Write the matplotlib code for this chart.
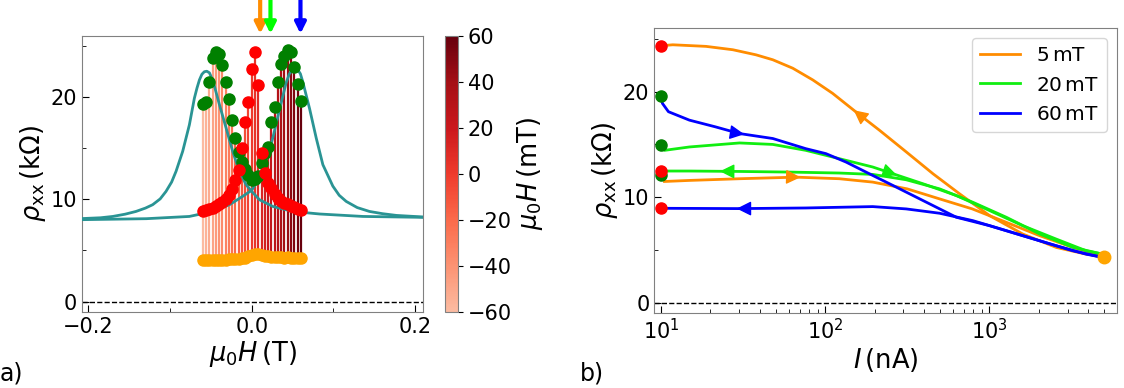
import numpy as np
import matplotlib
matplotlib.use('Agg')
import matplotlib.pyplot as plt
from matplotlib.colors import ListedColormap, Normalize
from matplotlib.cm import ScalarMappable

# ---- panel a: field sweep ----
# applied fields of the current sweeps (mT)
fields_mT = np.array([-60, -56, -52, -48, -44, -40, -36, -32, -28, -24, -20, -16, -12, -8, -4, 0,
                      4, 8, 12, 16, 20, 24, 28, 32, 36, 40, 44, 48, 52, 56, 60])
rho_start = np.array([19.3, 19.5, 21.5, 23.8, 24.4, 24.2, 23.2, 21.5, 19.8, 17.8, 16.0, 14.6, 13.7,
                      13.0, 12.4, 11.9, 12.0, 12.3, 13.6, 14.5, 15.1, 17.6, 19.0, 21.5, 23.3, 24.0,
                      24.6, 24.4, 23.0, 21.3, 19.6])
rho_end = np.array([8.9, 9.0, 9.1, 9.2, 9.35, 9.5, 9.7, 10.0, 10.4, 11.0, 11.9, 12.9, 15.0, 17.6,
                    19.5, 22.8, 24.4, 21.2, 14.5, 12.6, 11.6, 11.1, 10.5, 10.1, 9.8, 9.6, 9.5, 9.4,
                    9.3, 9.1, 9.0])
rho_high = np.array([4.1, 4.1, 4.1, 4.1, 4.1, 4.1, 4.1, 4.1, 4.12, 4.15, 4.2, 4.2, 4.25, 4.3, 4.45,
                     4.6, 4.7, 4.7, 4.6, 4.5, 4.45, 4.4, 4.4, 4.35, 4.35, 4.3, 4.35, 4.3, 4.3, 4.3, 4.3])

# low current field sweeps (T, kOhm)
h_sweep1 = [-0.211, -0.185, -0.170, -0.155, -0.1416, -0.130, -0.1212, -0.112, -0.1049, -0.098,
            -0.0926, -0.0845, -0.0763, -0.0702, -0.067, -0.064, -0.061, -0.058, -0.055, -0.0518,
            -0.049, -0.0457, -0.0396, -0.0314, -0.0233, -0.0151, -0.0069, 0.0, 0.0094, 0.0257,
            0.050, 0.083, 0.136, 0.2115]
rho_sweep1 = [8.11, 8.2, 8.33, 8.55, 8.82, 9.15, 9.48, 10.05, 10.78, 11.7, 12.75, 14.7, 17.3, 19.9,
              20.9, 21.7, 22.25, 22.5, 22.55, 22.4, 21.9, 21.1, 19.3, 17.0, 14.7, 12.75, 11.44, 10.78,
              9.97, 9.31, 8.82, 8.57, 8.33, 8.24]
h_sweep2 = [-0.211, -0.129, -0.0763, -0.0478, -0.0273, -0.011, 0.0, 0.0094, 0.0176, 0.0257, 0.034,
            0.042, 0.046, 0.050, 0.0535, 0.0563, 0.0595, 0.0625, 0.0707, 0.0789, 0.087, 0.0992,
            0.107, 0.1156, 0.129, 0.144, 0.160, 0.177, 0.2115]
rho_sweep2 = [8.01, 8.11, 8.33, 8.82, 9.48, 10.3, 10.9, 12.1, 13.7, 16.0, 18.8, 21.4, 22.3, 22.7,
              22.8, 22.7, 22.3, 21.5, 18.9, 16.0, 13.4, 11.3, 10.4, 9.8, 9.2, 8.82, 8.6, 8.43, 8.27]

arrow_fields = [0.0103, 0.0229, 0.0596]
arrow_colors = ['darkorange', 'lime', 'blue']

# ---- panel b: current sweeps (nA, kOhm) ----
I5_up = [10.5, 14.9, 30.1, 66.5, 122, 195, 316, 498, 788, 1270, 2030, 3240, 4930]
r5_up = [11.49, 11.59, 11.75, 11.9, 11.75, 11.43, 10.79, 9.84, 8.89, 7.62, 6.35, 5.24, 4.44]
I5_dn = [4930, 3900, 2560, 1600, 1005, 659, 454, 312, 214, 158, 111, 84.1, 63.5, 48.0, 37.9, 27.4,
         18.8, 11.8, 10]
r5_dn = [4.44, 4.6, 5.24, 6.51, 8.25, 10.32, 12.22, 14.29, 16.35, 17.94, 19.84, 21.11, 22.22, 23.02,
         23.49, 23.97, 24.29, 24.44, 24.35]

I20_up = [10, 10.5, 14.9, 30.1, 48.0, 76.2, 122, 195, 259, 395, 630, 1005, 1600, 2560, 3900, 4930]
r20_up = [14.98, 14.44, 14.76, 15.14, 15.0, 14.44, 13.65, 12.86, 12.22, 11.27, 10.16, 8.73, 7.30,
          6.03, 4.92, 4.6]
I20_dn = [4930, 3240, 2030, 1270, 794, 498, 312, 195, 122, 60.5, 30.1, 14.9, 10]
r20_dn = [4.6, 5.24, 6.51, 8.10, 9.52, 10.79, 11.65, 12.16, 12.29, 12.38, 12.44, 12.48, 12.48]

I60_up = [10, 10.2, 11.1, 14.9, 21.4, 30.1, 48.0, 76.2, 101, 134, 195, 259, 395, 630, 1005, 1600,
          2560, 3900, 4930]
r60_up = [19.59, 18.89, 18.1, 17.3, 16.67, 16.03, 15.56, 14.6, 14.13, 13.33, 12.06, 11.11, 9.68, 8.10,
          7.30, 6.35, 5.40, 4.6, 4.29]
I60_dn = [4930, 3240, 2030, 1270, 794, 498, 312, 195, 76.2, 30.1, 10]
r60_dn = [4.29, 4.92, 5.87, 6.83, 7.78, 8.48, 8.89, 9.11, 8.98, 8.92, 8.95]

start_vals = [19.59, 14.98, 12.06]
end_vals = [24.35, 12.48, 8.95]
I_min, I_max = 10, 5000
high_val = 4.35

c5, c20, c60 = 'darkorange', '#11ee11', 'blue'
LABEL_FS = 18.5

plt.rcParams['font.size'] = 15

fig = plt.figure(figsize=(11.24, 3.88), dpi=100)
ax1 = fig.add_axes([0.0727, 0.1966, 0.304, 0.7106])
cax = fig.add_axes([0.396, 0.1966, 0.0116, 0.7106])
ax2 = fig.add_axes([0.5821, 0.1925, 0.4117, 0.7345])

reds = ListedColormap(plt.cm.Reds(np.linspace(0.25, 1.0, 256)))
norm = Normalize(-60, 60)
H = fields_mT / 1000.0
top = np.maximum(rho_start, rho_end)

ax1.vlines(H, rho_high, top, colors=reds(norm(fields_mT)), lw=1.6, zorder=2)
ax1.plot(h_sweep1, rho_sweep1, color='#2a9494', lw=2, zorder=3)
ax1.plot(h_sweep2, rho_sweep2, color='#2a9494', lw=2, zorder=3)
ax1.plot(H, rho_start, 'o', color='green', ms=8, zorder=4)
ax1.plot(H, rho_end, 'o', color='red', ms=8, zorder=4)
ax1.plot(H, rho_high, 'o', color='orange', ms=8, zorder=4)
ax1.axhline(0, color='k', ls='--', lw=1)
ax1.set_xlim(-0.208, 0.21)
ax1.set_ylim(-1, 26)
ax1.set_xticks([-0.2, 0.0, 0.2])
ax1.set_xticks([-0.1, 0.1], minor=True)
ax1.set_yticks([0, 10, 20])
ax1.set_yticks([5, 15, 25], minor=True)
ax1.set_xlabel(r'$\mu_0H\,$(T)', fontsize=LABEL_FS, labelpad=2)
ax1.set_ylabel(r'$\rho_\mathrm{xx}\,$(k$\Omega$)', fontsize=LABEL_FS, labelpad=2)

for h, c in zip(arrow_fields, arrow_colors):
    ax1.annotate('', xy=(h, 1.008), xytext=(h, 1.135), xycoords=('data', 'axes fraction'),
                 textcoords=('data', 'axes fraction'), annotation_clip=False,
                 arrowprops=dict(arrowstyle='-|>', color=c, lw=3, mutation_scale=16,
                                 shrinkA=0, shrinkB=0))

cb = fig.colorbar(ScalarMappable(norm=norm, cmap=reds), cax=cax)
cb.set_ticks([-60, -40, -20, 0, 20, 40, 60])
cb.set_label(r'$\mu_0H\,$(mT)', fontsize=LABEL_FS, labelpad=2)
cb.outline.set_edgecolor('gray')


def add_arrow(ax, I, rho, I0, color):
    lx = np.log10(I)
    r = np.asarray(rho)
    order = np.argsort(lx)
    step = 0.03 * np.sign(lx[-1] - lx[0])
    a = np.log10(I0)
    ya = np.interp(a, lx[order], r[order])
    yb = np.interp(a + step, lx[order], r[order])
    ax.annotate('', xy=(10 ** (a + step), yb), xytext=(10 ** a, ya),
                arrowprops=dict(arrowstyle='-|>', color=color, lw=1, mutation_scale=22,
                                shrinkA=0, shrinkB=0))


ax2.plot(I5_up, r5_up, color=c5, lw=2, label='5$\\,\\mathrm{mT}$')
ax2.plot(I5_dn, r5_dn, color=c5, lw=2)
ax2.plot(I20_up, r20_up, color=c20, lw=2, label='20$\\,\\mathrm{mT}$')
ax2.plot(I20_dn, r20_dn, color=c20, lw=2)
ax2.plot(I60_up, r60_up, color=c60, lw=2, label='60$\\,\\mathrm{mT}$')
ax2.plot(I60_dn, r60_dn, color=c60, lw=2)
add_arrow(ax2, I5_dn, r5_dn, 160, c5)
add_arrow(ax2, I5_up, r5_up, 66, c5)
add_arrow(ax2, I20_up, r20_up, 255, c20)
add_arrow(ax2, I20_dn, r20_dn, 24.5, c20)
add_arrow(ax2, I60_up, r60_up, 30, c60)
add_arrow(ax2, I60_dn, r60_dn, 31, c60)
ax2.plot([I_min] * 3, start_vals, 'o', color='green', ms=8)
ax2.plot([I_min] * 3, end_vals, 'o', color='red', ms=8)
ax2.plot([I_max], [high_val], 'o', color='orange', ms=9)
ax2.axhline(0, color='k', ls='--', lw=1)
ax2.set_xscale('log')
ax2.set_xlim(9.1, 6000)
ax2.set_ylim(-1, 26)
ax2.set_yticks([0, 10, 20])
ax2.set_yticks([5, 15, 25], minor=True)
ax2.set_xlabel(r'$I\,$(nA)', fontsize=LABEL_FS, labelpad=2)
ax2.set_ylabel(r'$\rho_\mathrm{xx}\,$(k$\Omega$)', fontsize=LABEL_FS, labelpad=2)
ax2.legend(loc='upper right', fontsize=14.5, handlelength=2.0)

for ax in (ax1, ax2):
    ax.tick_params(which='both', direction='in')
    ax.tick_params(which='major', length=5)
    ax.tick_params(which='minor', length=3)
    for s in ax.spines.values():
        s.set_edgecolor('gray')

fig.text(0.0, 0.02, 'a)', fontsize=17)
fig.text(0.516, 0.02, 'b)', fontsize=17)

fig.savefig('out.png', dpi=100)
